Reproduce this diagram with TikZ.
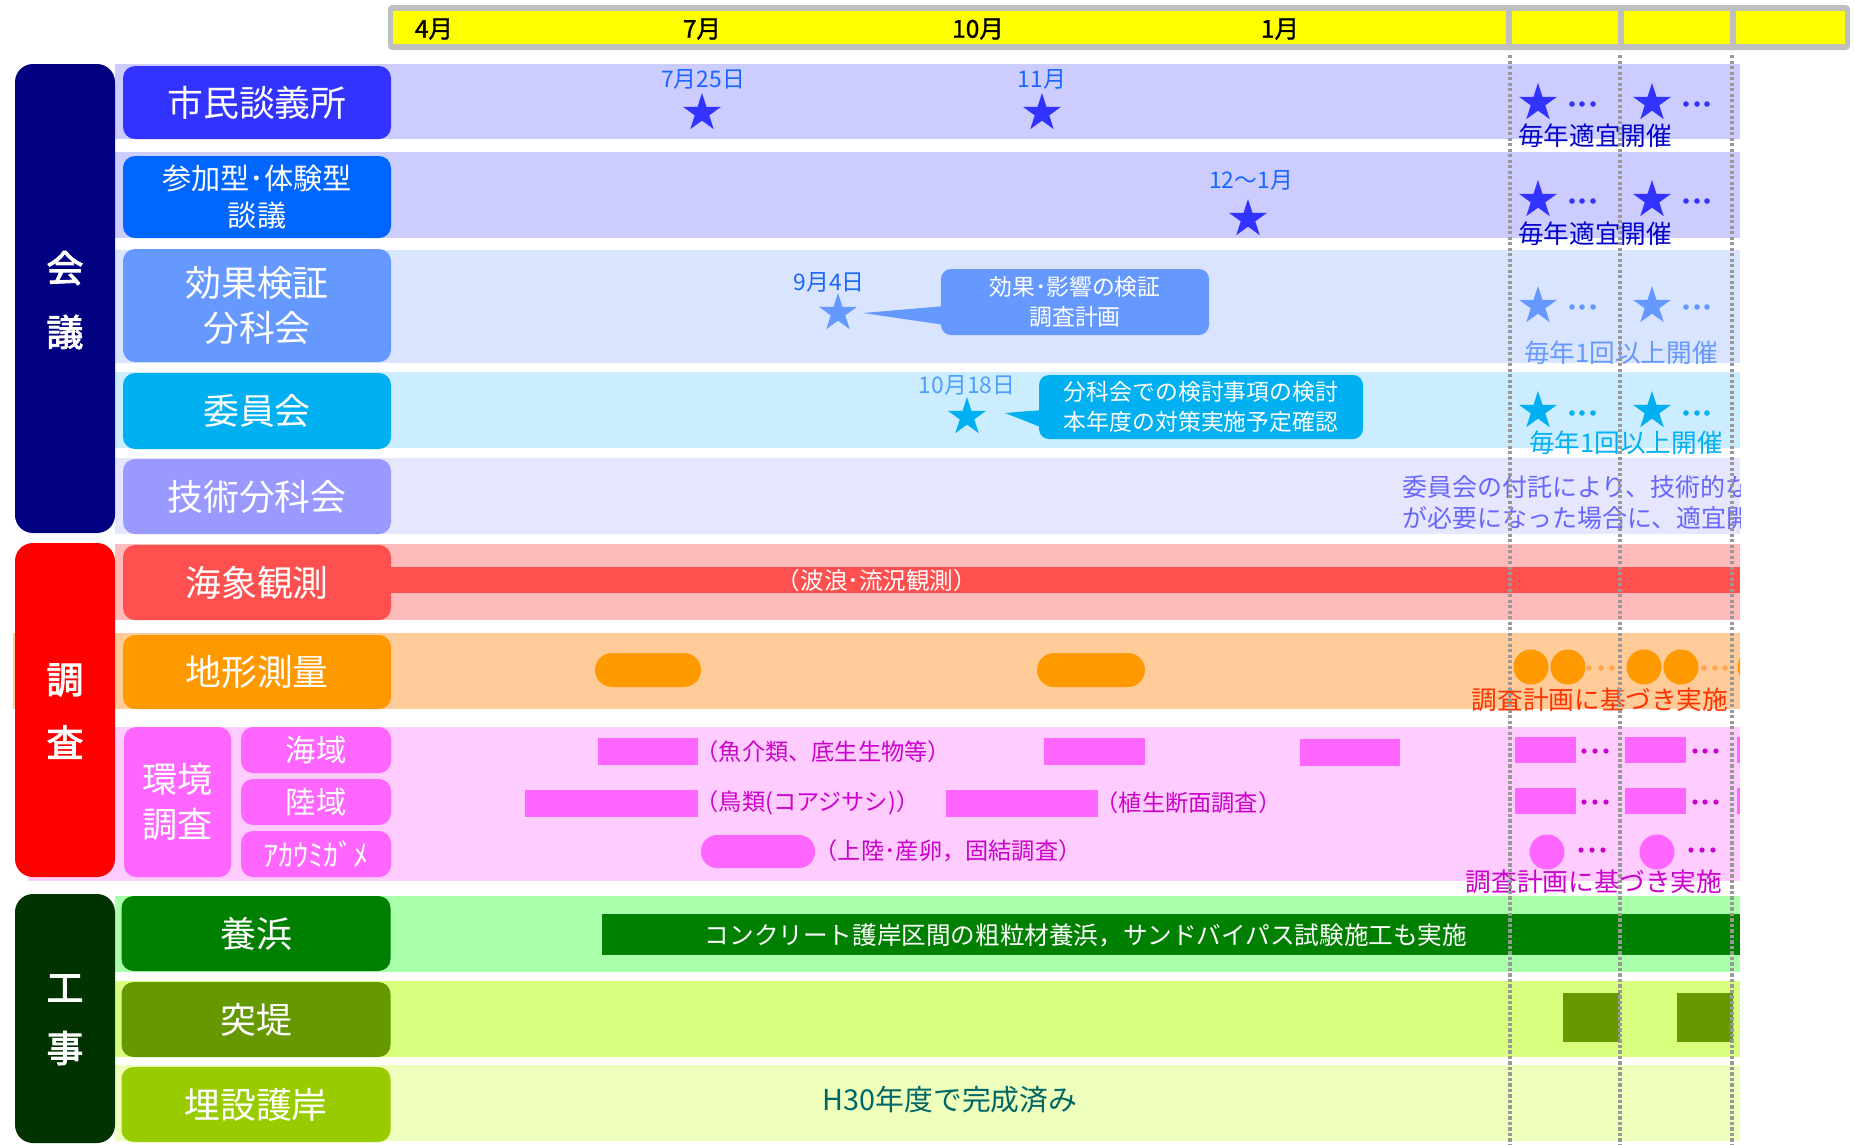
\documentclass[tikz,border=0pt]{standalone}
\usepackage{fontspec}
\setmainfont{Noto Sans CJK JP}
\newfontfamily\bfcjk[FakeBold=2.5]{Noto Sans CJK JP}
\newfontfamily\mbcjk[FakeBold=1.2]{Noto Sans CJK JP}
\usetikzlibrary{shapes.geometric}
\newcommand\fsz[2]{\fontsize{#1pt}{#2pt}\selectfont}
\definecolor{hdrgray}{HTML}{BFBFBF}
\definecolor{hdryel}{HTML}{FFFF00}
\definecolor{kaigi}{HTML}{000080}
\definecolor{chosa}{HTML}{FF0000}
\definecolor{koji}{HTML}{003300}
\definecolor{cA}{HTML}{3333FF}
\definecolor{cB}{HTML}{0066FF}
\definecolor{cC}{HTML}{6699FF}
\definecolor{cD}{HTML}{00B0F0}
\definecolor{cE}{HTML}{9999FF}
\definecolor{cF}{HTML}{FF5050}
\definecolor{cG}{HTML}{FF9900}
\definecolor{cH}{HTML}{FF66FF}
\definecolor{cI}{HTML}{008000}
\definecolor{cJ}{HTML}{669900}
\definecolor{cK}{HTML}{99CC00}
\definecolor{bA}{HTML}{CCCCFF}
\definecolor{bC}{HTML}{D9E5FF}
\definecolor{bD}{HTML}{CCECFF}
\definecolor{bE}{HTML}{E6E6FF}
\definecolor{bF}{HTML}{FFBBBB}
\definecolor{bG}{HTML}{FFCC99}
\definecolor{bH}{HTML}{FFCCFF}
\definecolor{bI}{HTML}{AAFFAA}
\definecolor{bJ}{HTML}{D9FF7F}
\definecolor{bK}{HTML}{EEFFBB}
\definecolor{dateblue}{HTML}{1A66FF}
\definecolor{lightdate}{HTML}{4D9FFF}
\definecolor{planblue}{HTML}{0000CC}
\definecolor{techtxt}{HTML}{6666FF}
\definecolor{orangetxt}{HTML}{FF3300}
\definecolor{orangedot}{HTML}{FFA64D}
\definecolor{magtxt}{HTML}{CC00CC}
\definecolor{tealtxt}{HTML}{006666}
\definecolor{dotgray}{HTML}{999999}
\begin{document}
\begin{tikzpicture}[x=0.1mm,y=-0.1mm,
  lab/.style={rounded corners=1.2mm, text=white, align=center, inner sep=0pt, font=\fsz{10.2}{12.8}},
  catbox/.style={rounded corners=1.8mm, inner sep=0pt},
  cattxt/.style={text=white, inner sep=0pt, font=\bfcjk\fsz{10.5}{12}},
  pstar/.style={star, star points=5, star point ratio=2.618, inner sep=0pt, minimum size=4mm, draw=none},
  datelab/.style={inner sep=0pt, font=\fsz{6.5}{7.5}, text=dateblue},
  month/.style={inner sep=0pt, font=\mbcjk\fsz{7}{8}},
  note/.style={inner sep=0pt, font=\fsz{7.3}{8.6}},
  small/.style={inner sep=0pt, font=\fsz{6.6}{8}},
  callout/.style={rounded corners=1mm, text=white, align=center, inner sep=0pt, font=\fsz{6.5}{8.4}},
  vdots/.style={dotgray, line width=0.33mm, dash pattern=on 0.33mm off 0.22mm},
]
\useasboundingbox (0,0) rectangle (1854,1144);

% ---------------- bands ----------------
\fill[bA] (115,64) rectangle (1740,139);
\fill[bA] (115,152) rectangle (1740,238);
\fill[bC] (115,250) rectangle (1740,363);
\fill[bD] (115,372) rectangle (1740,448);
\fill[bE] (115,458) rectangle (1740,534);
\fill[bF] (115,544) rectangle (1740,620);
\fill[bG] (13,633) rectangle (1740,709);
\fill[bH] (28,727) rectangle (1740,881);
\fill[bI] (115,896) rectangle (1740,972);
\fill[bJ] (115,981) rectangle (1740,1057);
\fill[bK] (115,1065) rectangle (1740,1141);

% ---------------- category boxes ----------------
\node[catbox, fill=kaigi, minimum width=10mm, minimum height=46.9mm] (k1) at (65,298.5) {};
\node[catbox, fill=chosa, minimum width=10mm, minimum height=33.4mm] (k2) at (65,710) {};
\node[catbox, fill=koji, minimum width=10mm, minimum height=24.9mm] (k3) at (65,1018.5) {};
\node[cattxt] (k1a) at (65,268) {会};
\node[cattxt] (k1b) at (65,332) {議};
\node[cattxt] (k2a) at (65,680) {調};
\node[cattxt] (k2b) at (65,742) {査};
\node[cattxt] (k3a) at (65,988) {工};
\node[cattxt] (k3b) at (65,1048) {事};

% ---------------- label boxes ----------------
\node[lab, fill=cA, minimum width=26.8mm, minimum height=7.3mm] (b1) at (257,102.5) {市民談義所};
\node[lab, fill=cB, minimum width=26.8mm, minimum height=8.2mm, font=\fsz{8.3}{10.8}] (b2) at (257,197) {参加型･体験型\\談議};
\node[lab, fill=cC, minimum width=26.8mm, minimum height=11.3mm] (b3) at (257,305.5) {効果検証\\分科会};
\node[lab, fill=cD, minimum width=26.8mm, minimum height=7.6mm] (b4) at (257,411) {委員会};
\node[lab, fill=cE, minimum width=26.8mm, minimum height=7.5mm] (b5) at (257,496.5) {技術分科会};
\node[lab, fill=cF, minimum width=26.8mm, minimum height=7.5mm] (b6) at (257,582.5) {海象観測};
\node[lab, fill=cG, minimum width=26.8mm, minimum height=7.4mm] (b7) at (257,672) {地形測量};
\node[lab, fill=cH, minimum width=10.7mm, minimum height=15mm, font=\fsz{10}{12.8}] (b8) at (177.5,802) {環境\\調査};
\node[lab, fill=cH, minimum width=15mm, minimum height=4.6mm, font=\fsz{8.6}{10}] (b8a) at (316,750) {海域};
\node[lab, fill=cH, minimum width=15mm, minimum height=4.6mm, font=\fsz{8.6}{10}] (b8b) at (316,802) {陸域};
\node[lab, fill=cH, minimum width=15mm, minimum height=4.6mm, font=\fsz{8.6}{10}] (b8c) at (316,854) {ｱｶｳﾐｶﾞﾒ};
\node[lab, fill=cI, minimum width=26.9mm, minimum height=7.5mm] (b9) at (256,933.5) {養浜};
\node[lab, fill=cJ, minimum width=26.9mm, minimum height=7.5mm] (b10) at (256,1019.5) {突堤};
\node[lab, fill=cK, minimum width=26.9mm, minimum height=7.5mm] (b11) at (256,1104.5) {埋設護岸};

% ---------------- header ----------------
\fill[hdrgray, rounded corners=0.4mm] (388,5) rectangle (1850,50);
\fill[hdryel] (393,11) rectangle (1845,44);
\foreach \xx in {1509,1621,1733} \fill[hdrgray] (\xx-3,5) rectangle (\xx+3,50);
\node[month] (m4) at (434,29) {4月};
\node[month] (m7) at (702,29) {7月};
\node[month] (m10) at (978,29) {10月};
\node[month] (m1) at (1280,29) {1月};

% ---------------- 市民談義所 ----------------
\node[datelab] (d1) at (703,79) {7月25日};
\node[pstar, fill=cA] (s1) at (702,113) {};
\node[datelab] (d2) at (1042,79) {11月};
\node[pstar, fill=cA] (s2) at (1042,113) {};
\node[pstar, fill=cA] (f1a) at (1538,103) {};
\node[pstar, fill=cA] (f1b) at (1652,103) {};
\foreach \xx in {1572,1582,1593,1686,1697,1707} \fill[cA] (\xx,104) circle (0.28mm);
\node[note, text=planblue] (n1) at (1595,136) {毎年適宜開催};

% ---------------- 参加型 ----------------
\node[datelab] (d3) at (1251,180) {12〜1月};
\node[pstar, fill=cA] (s3) at (1248,219) {};
\node[pstar, fill=cA] (f2a) at (1538,200) {};
\node[pstar, fill=cA] (f2b) at (1652,200) {};
\foreach \xx in {1572,1582,1593,1686,1697,1707} \fill[cA] (\xx,201) circle (0.28mm);
\node[note, text=planblue] (n2) at (1595,234) {毎年適宜開催};

% ---------------- 効果検証分科会 ----------------
\node[datelab] (d4) at (829,282) {9月4日};
\node[pstar, fill=cC] (s4) at (838,313) {};
\node[callout, fill=cC, minimum width=26.8mm, minimum height=6.6mm] (cb1) at (1075,302) {効果･影響の検証\\調査計画};
\coordinate (t1) at (863,313);
\fill[cC] (945,306) -- (t1) -- (945,325) -- cycle;
\node[pstar, fill=cC] (f3a) at (1538,306) {};
\node[pstar, fill=cC] (f3b) at (1652,306) {};
\foreach \xx in {1572,1582,1593,1686,1697,1707} \fill[cC] (\xx,307) circle (0.28mm);
\node[note, text=cC] (n3) at (1621,353) {毎年1回以上開催};

% ---------------- 委員会 ----------------
\node[datelab, text=lightdate] (d5) at (967,385) {10月18日};
\node[pstar, fill=cD] (s5) at (967,417) {};
\node[callout, fill=cD, minimum width=32.4mm, minimum height=6.4mm] (cb2) at (1201,407) {分科会での検討事項の検討\\本年度の対策実施予定確認};
\coordinate (t2) at (1005,413);
\fill[cD] (1043,410) -- (t2) -- (1043,428) -- cycle;
\node[pstar, fill=cD] (f4a) at (1538,411) {};
\node[pstar, fill=cD] (f4b) at (1652,411) {};
\foreach \xx in {1572,1582,1593,1686,1697,1707} \fill[cD] (\xx,413) circle (0.28mm);
\node[note, text=cD] (n4) at (1626,443) {毎年1回以上開催};

% ---------------- 技術分科会 ----------------
\begin{scope}
\clip (115,440) rectangle (1740,534);
\node[inner sep=0pt, anchor=west, text=techtxt, font=\fsz{7.1}{8}] (n5a) at (1402,487) {委員会の付託により、技術的な検討};
\node[inner sep=0pt, anchor=west, text=techtxt, font=\fsz{7.1}{8}] (n5b) at (1402,518) {が必要になった場合に、適宜開催};
\end{scope}

% ---------------- 海象観測 ----------------
\fill[cF] (391,567) rectangle (1740,593);
\node[small, text=white, font=\fsz{6.7}{7.5}] (w1) at (877,581) {（波浪･流況観測）};

% ---------------- 地形測量 ----------------
\fill[cG, rounded corners=1.7mm] (595,653) rectangle (701,687);
\fill[cG, rounded corners=1.7mm] (1037,653) rectangle (1145,687);
\begin{scope}
\clip (115,633) rectangle (1740,709);
\foreach \xx in {1531,1568,1644,1681,1755} \fill[cG] (\xx,667) circle (1.75mm);
\end{scope}
\foreach \xx in {1589,1601,1612,1704,1715,1725} \fill[orangedot] (\xx,668) circle (0.28mm);
\node[note, text=orangetxt] (n7) at (1600,700) {調査計画に基づき実施};

% ---------------- 環境調査 ----------------
\fill[cH] (598,738) rectangle (698,765);
\fill[cH] (1044,738) rectangle (1145,765);
\fill[cH] (1300,739) rectangle (1400,766);
\fill[cH] (1515,737) rectangle (1576,763);
\fill[cH] (1625,737) rectangle (1686,763);
\fill[cH] (1737,737) rectangle (1740,763);
\foreach \xx in {1584,1595,1606,1695,1705,1716} \fill[magtxt] (\xx,751) circle (0.26mm);
\node[small, anchor=west, text=magtxt] (e1) at (695,752) {（魚介類、底生生物等）};

\fill[cH] (525,790) rectangle (698,817);
\fill[cH] (946,790) rectangle (1098,817);
\fill[cH] (1515,788) rectangle (1576,814);
\fill[cH] (1625,788) rectangle (1686,814);
\fill[cH] (1737,788) rectangle (1740,814);
\foreach \xx in {1584,1595,1606,1695,1705,1716} \fill[magtxt] (\xx,802) circle (0.26mm);
\node[small, anchor=west, text=magtxt] (e2) at (695,803) {（鳥類(コアジサシ)）};
\node[small, anchor=west, text=magtxt] (e3) at (1095,803) {（植生断面調査）};

\fill[cH, rounded corners=1.6mm] (701,835) rectangle (815,868);
\node[small, anchor=west, text=magtxt] (e4) at (814,851) {（上陸･産卵，固結調査）};
\fill[cH] (1547,852) circle (1.75mm);
\fill[cH] (1657,852) circle (1.75mm);
\foreach \xx in {1581,1592,1603,1691,1702,1713} \fill[magtxt] (\xx,850) circle (0.26mm);
\node[note, text=magtxt] (n8) at (1594,882) {調査計画に基づき実施};

% ---------------- 工事 ----------------
\fill[cI] (602,914) rectangle (1740,955);
\node[inner sep=0pt, text=white, font=\fsz{7}{8}] (y1) at (1086,935) {コンクリート護岸区間の粗粒材養浜，サンドバイパス試験施工も実施};
\fill[cJ] (1563,993) rectangle (1620,1042);
\fill[cJ] (1677,993) rectangle (1733,1042);
\node[inner sep=0pt, text=tealtxt, font=\fsz{8.2}{9.5}] (h1) at (950,1100) {H30年度で完成済み};

% ---------------- dotted year lines ----------------
\foreach \xx in {1510,1620,1732} \draw[vdots] (\xx,55) -- (\xx,1144);
\end{tikzpicture}
\end{document}
